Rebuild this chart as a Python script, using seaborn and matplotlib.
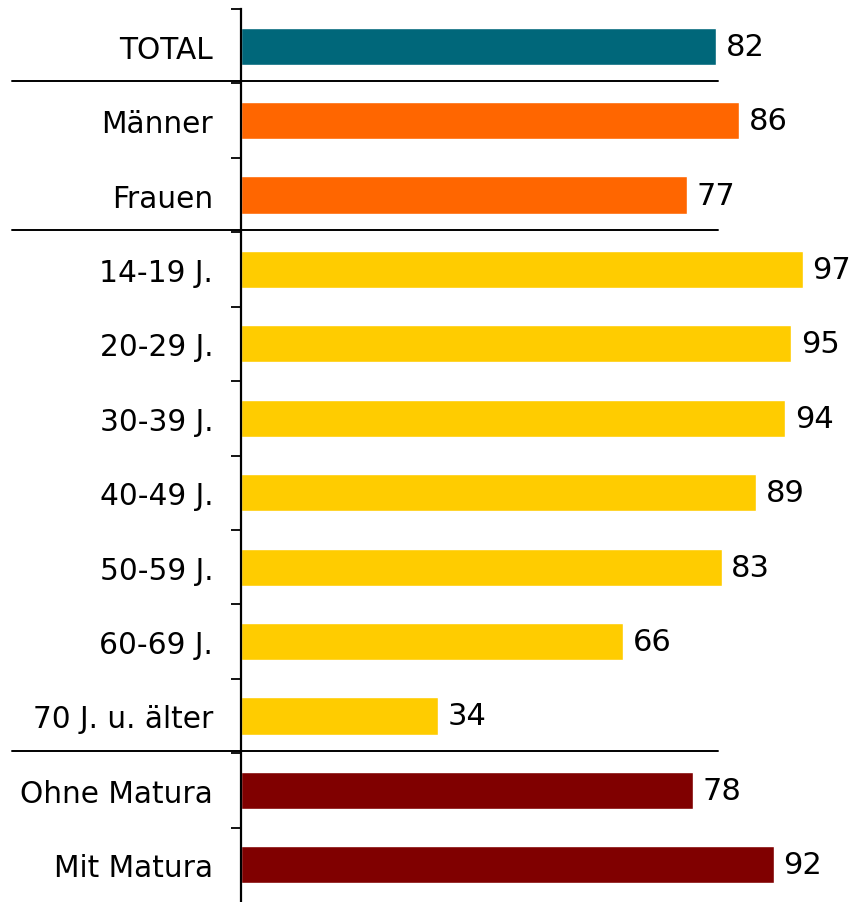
import pandas as pd
import matplotlib.pyplot as plt
import matplotlib.transforms as mtransforms
from matplotlib.ticker import FixedLocator
import seaborn as sns

# data
categories = ['TOTAL', 'Männer', 'Frauen', '14-19 J.', '20-29 J.', '30-39 J.',
              '40-49 J.', '50-59 J.', '60-69 J.', '70 J. u. älter',
              'Ohne Matura', 'Mit Matura']
values = [82, 86, 77, 97, 95, 94, 89, 83, 66, 34, 78, 92]
groups = ['Total', 'Geschlecht', 'Geschlecht', 'Alter', 'Alter', 'Alter',
          'Alter', 'Alter', 'Alter', 'Alter', 'Bildung', 'Bildung']
group_colors = {'Total': '#00677a', 'Geschlecht': '#ff6600',
                'Alter': '#ffcc00', 'Bildung': '#800000'}
separators_after = [0, 2, 9]

df = pd.DataFrame({'cat': categories, 'val': values, 'grp': groups})

sns.set_style("white")
plt.rcParams['font.family'] = ['DejaVu Sans']

fig = plt.figure(figsize=(8.53, 9.03), dpi=100)
ax = fig.add_axes([241 / 853, 0.0, 579 / 853, 893 / 903])

sns.barplot(data=df, y='cat', x='val', hue='grp', palette=group_colors,
            dodge=False, width=0.5, legend=False, ax=ax, orient='h',
            saturation=1)

for cont in ax.containers:
    ax.bar_label(cont, padding=7, fontsize=22, color='black')

ax.set_xlim(0, 100)
ax.set_ylim(len(categories) - 0.5, -0.5)
ax.set_xlabel('')
ax.set_ylabel('')
ax.set_xticks([])

for s in ['top', 'right', 'bottom']:
    ax.spines[s].set_visible(False)
ax.spines['left'].set_linewidth(1.6)
ax.spines['left'].set_color('black')

ax.tick_params(axis='y', which='major', left=True, length=0, pad=20,
               labelsize=21.3, labelcolor='black')
# ticks at the category boundaries
ax.yaxis.set_minor_locator(FixedLocator([i - 0.5 for i in range(len(categories))]))
ax.tick_params(axis='y', which='minor', left=True, length=7, width=1.3,
               direction='out', color='black')

# group separators, extending left into the label area
trans = mtransforms.blended_transform_factory(ax.transAxes, ax.transData)
for i in separators_after:
    ax.plot([-229 / 579, 477 / 579], [i + 0.47, i + 0.47], transform=trans,
            color='black', lw=1.4, clip_on=False)

fig.savefig('out.png', dpi=100)
